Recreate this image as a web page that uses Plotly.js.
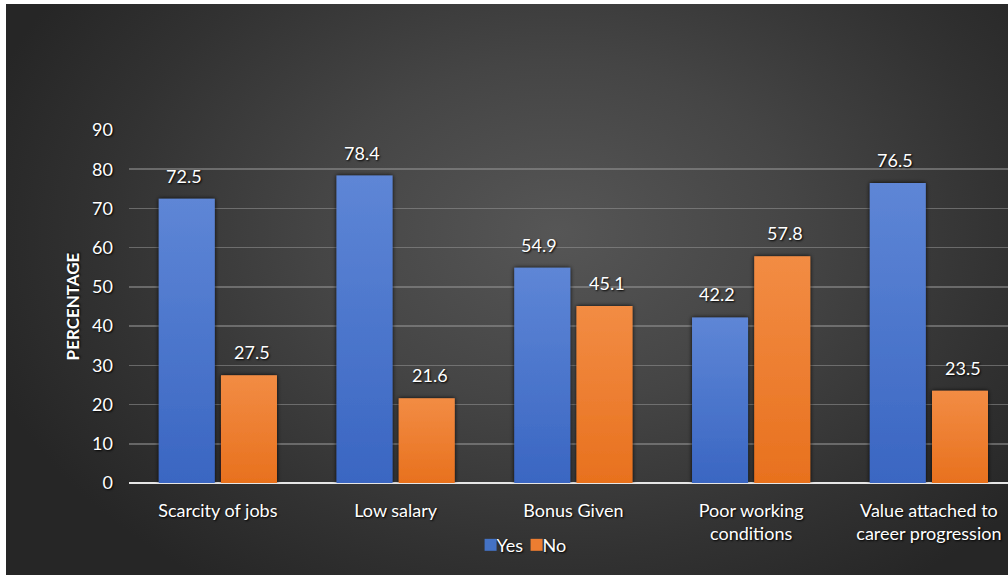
<!DOCTYPE html>
<html>
<head>
<meta charset="utf-8">
<script src="https://cdn.plot.ly/plotly-3.0.1.min.js"></script>
<style>
  html, body { margin: 0; padding: 0; background: #ffffff; width: 1008px; height: 576px; overflow: hidden; }
  #wrap { position: absolute; left: 6px; top: 4px; width: 1002px; height: 571px;
    background: radial-gradient(ellipse 60% 75% at 55% 40%, #565656 0%, #454545 40%, #323232 75%, #262626 100%); }
  #chart { width: 1002px; height: 571px; }
</style>
</head>
<body>
<div id="wrap"><div id="chart"></div></div>
<script>
const categories = ["Scarcity of jobs", "Low salary", "Bonus Given", "Poor working<br>conditions", "Value attached to<br>career progression"];
const yesValues = [72.5, 78.4, 54.9, 42.2, 76.5];
const noValues = [27.5, 21.6, 45.1, 57.8, 23.5];
const yTicks = [0, 10, 20, 30, 40, 50, 60, 70, 80, 90];

const FONT = "Lato, 'Open Sans', sans-serif";
const SHADOW = "1px 1px 2px #000";

const traces = [
  { type: "bar", name: "Yes", x: categories, y: yesValues,
    marker: { color: "#4472C4", line: { width: 0 } }, hoverinfo: "skip" },
  { type: "bar", name: "No", x: categories, y: noValues,
    marker: { color: "#ED7D31", line: { width: 0 } }, hoverinfo: "skip" }
];

const annotations = [];
[[yesValues, -34], [noValues, 34]].forEach(([vals, dx]) => {
  vals.forEach((v, i) => {
    annotations.push({
      x: categories[i], y: v, xref: "x", yref: "y", text: v.toFixed(1),
      showarrow: false, xshift: dx, yshift: 10, yanchor: "bottom",
      font: { family: FONT, size: 18, color: "#ffffff", shadow: SHADOW }
    });
  });
});

const layout = {
  width: 1002, height: 571,
  paper_bgcolor: "rgba(0,0,0,0)", plot_bgcolor: "rgba(0,0,0,0)",
  margin: { l: 123, r: 0, t: 126, b: 92 },
  barmode: "group", bargap: 0.30, bargroupgap: 0.1,
  font: { family: FONT, color: "#ffffff" },
  xaxis: {
    type: "category", range: [-0.5, 4.445],
    showgrid: false, zeroline: false, showline: false, ticks: "",
    ticklabelstandoff: 15,
    tickfont: { family: FONT, size: 18, color: "#ffffff", shadow: SHADOW }
  },
  yaxis: {
    range: [0, 90], tickvals: yTicks, ticktext: yTicks.map(String),
    showgrid: true, gridcolor: "rgba(150,150,150,0.55)", gridwidth: 1.5,
    zeroline: true, zerolinecolor: "#e6e6e6", zerolinewidth: 2.5,
    showline: false, ticks: "", ticklabelstandoff: 15,
    tickfont: { family: FONT, size: 18, color: "#ffffff", shadow: SHADOW },
    title: { text: "PERCENTAGE", standoff: 8,
      font: { family: FONT, size: 17, color: "#ffffff", weight: "bold", shadow: SHADOW } }
  },
  showlegend: true,
  legend: {
    orientation: "h", x: 0.425, xanchor: "center", y: -0.176, yanchor: "middle",
    font: { family: FONT, size: 18, color: "#ffffff", shadow: SHADOW },
    itemwidth: 30, entrywidth: 1, entrywidthmode: "pixels",
    tracegroupgap: 0, bgcolor: "rgba(0,0,0,0)"
  },
  annotations: annotations
};

Plotly.newPlot("chart", traces, layout, { displayModeBar: false, staticPlot: true }).then(gd => {
  const svg = gd.querySelector("svg.main-svg");
  const ns = "http://www.w3.org/2000/svg";
  let defs = svg.querySelector("defs");
  if (!defs) { defs = document.createElementNS(ns, "defs"); svg.insertBefore(defs, svg.firstChild); }
  function grad(id, top, bottom) {
    const g = document.createElementNS(ns, "linearGradient");
    g.setAttribute("id", id); g.setAttribute("x1", "0"); g.setAttribute("y1", "0");
    g.setAttribute("x2", "0"); g.setAttribute("y2", "1");
    [[0, top], [1, bottom]].forEach(([o, c]) => {
      const s = document.createElementNS(ns, "stop");
      s.setAttribute("offset", o); s.setAttribute("stop-color", c); g.appendChild(s);
    });
    defs.appendChild(g);
  }
  grad("gBlue", "#5E86D6", "#3A66C2");
  grad("gOrange", "#F28C44", "#E8711E");
  const f = document.createElementNS(ns, "filter");
  f.setAttribute("id", "barShadow"); f.setAttribute("x", "-20%"); f.setAttribute("y", "-10%");
  f.setAttribute("width", "140%"); f.setAttribute("height", "120%");
  const ds = document.createElementNS(ns, "feDropShadow");
  ds.setAttribute("dx", "0"); ds.setAttribute("dy", "0"); ds.setAttribute("stdDeviation", "2");
  ds.setAttribute("flood-color", "#000"); ds.setAttribute("flood-opacity", "0.9");
  f.appendChild(ds); defs.appendChild(f);
  const groups = gd.querySelectorAll(".barlayer .trace");
  groups.forEach((t, i) => {
    t.querySelectorAll(".point path").forEach(p => {
      p.style.fill = i === 0 ? "url(#gBlue)" : "url(#gOrange)";
      p.setAttribute("filter", "url(#barShadow)");
    });
  });
  gd.querySelectorAll(".legend .traces .legendpoints").forEach(lp => {
    lp.setAttribute("transform", "translate(14,0)");
  });
  gd.querySelectorAll(".legend [clip-path]").forEach(el => el.removeAttribute("clip-path"));
});
</script>
</body>
</html>
